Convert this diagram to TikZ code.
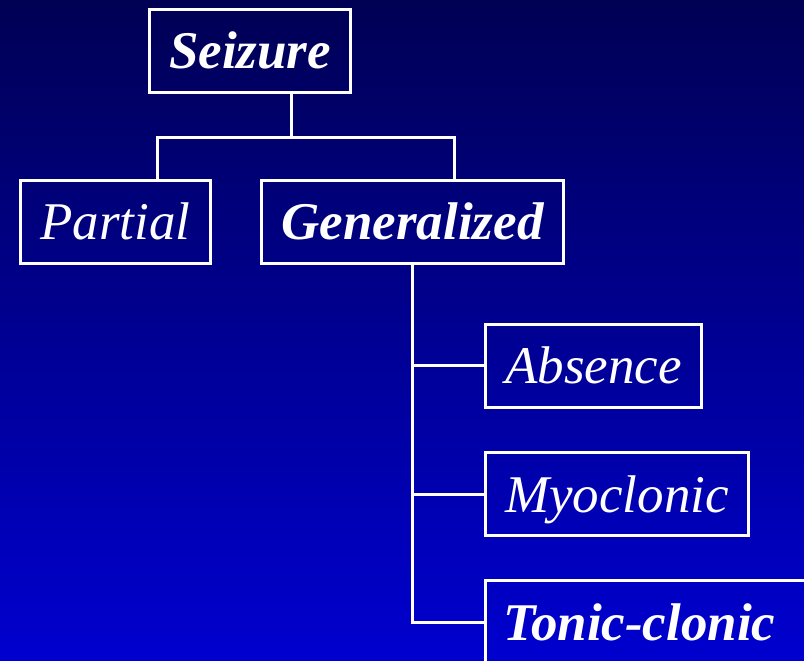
\documentclass[tikz,border=0pt]{standalone}
\usepackage{fontspec}
\setmainfont{Liberation Serif}
\begin{document}
\begin{tikzpicture}[x=1pt,y=-1pt,
  box/.style={draw=white, line width=3pt, inner sep=0pt, minimum height=83pt,
    text=white, text height=38pt, text depth=2pt,
    font=\fontsize{53}{60}\selectfont\itshape},
  boldbox/.style={box, font=\fontsize{53}{60}\selectfont\bfseries\itshape},
  link/.style={draw=white, line width=3pt}]
  % background
  \shade[top color={rgb,255:red,0;green,0;blue,84}, bottom color={rgb,255:red,0;green,0;blue,208}]
    (0,0) rectangle (804,661);
  \useasboundingbox (0,0) rectangle (804,661);

  % boxes
  \node[boldbox, minimum width=201pt] (seizure) at (250,51) {Seizure};
  \node[box, minimum width=190pt] (partial) at (115.5,221.5) {Partial};
  \node[boldbox, minimum width=302pt] (general) at (412.5,221.5) {Generalized};
  \node[box, minimum width=216pt] (absence) at (593.5,365.5) {Absence};
  \node[box, minimum width=263pt] (myo) at (617,494) {Myoclonic};
  \node[boldbox, anchor=west, inner xsep=18pt, text width=320pt, align=left]
    (tonic) at (484,622) {Tonic-clonic};

  % junction points of the upper bracket
  \coordinate (bus) at (291,137);
  \coordinate (busl) at (157,137);
  \coordinate (busr) at (454,137);

  % connectors
  \draw[link] (seizure.south -| bus) -- (bus);
  \draw[link] (partial.north -| busl) -- (busl) -- (busr) -- (general.north -| busr);
  \draw[link] (general.south) -- (general.south |- tonic.west) -- (tonic.west);
  \draw[link] (general.south |- absence.west) -- (absence.west);
  \draw[link] (general.south |- myo.west) -- (myo.west);
\end{tikzpicture}
\end{document}
